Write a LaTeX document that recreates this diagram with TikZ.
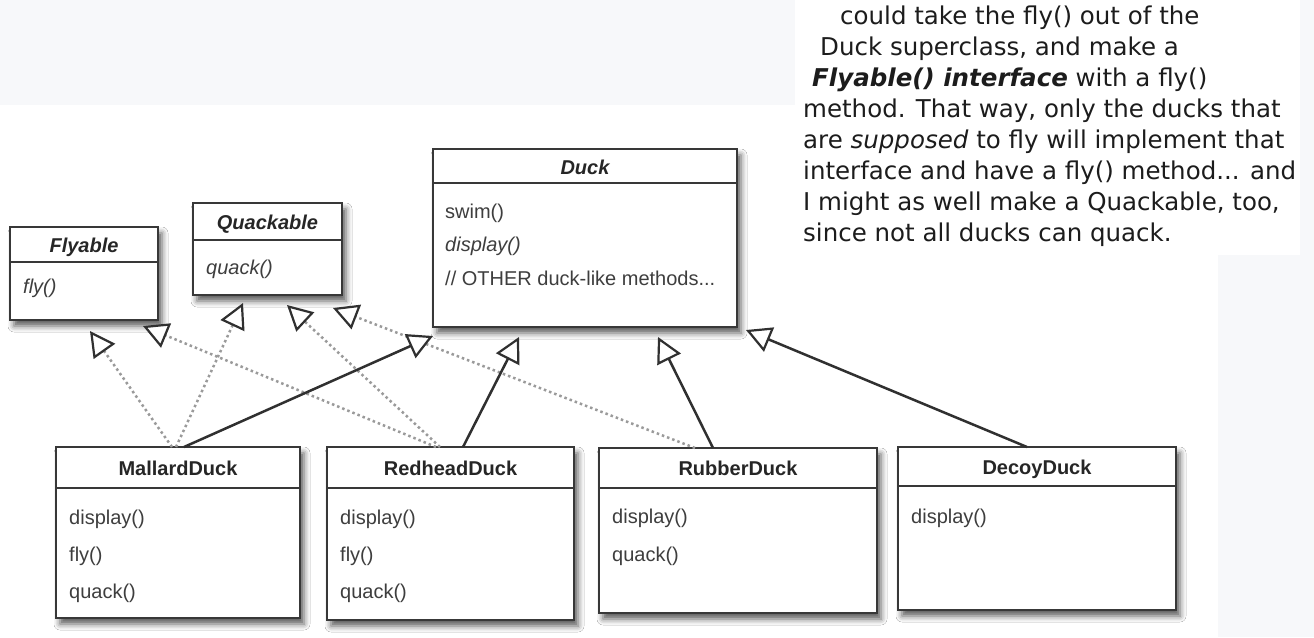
\documentclass[tikz,border=0pt]{standalone}
\usepackage{fontspec}
\setmainfont{Liberation Sans}
\newfontfamily\boxfont{Liberation Sans}
\newfontfamily\notefont{DejaVu Sans}
\usetikzlibrary{arrows.meta,calc,shadows.blur}
\definecolor{bggray}{HTML}{F7F8FA}
\definecolor{boxline}{HTML}{383838}
\definecolor{txt}{HTML}{262626}
\definecolor{meth}{HTML}{3E3E3E}
\definecolor{dotc}{HTML}{9A9A9A}
\definecolor{solidc}{HTML}{303030}
\definecolor{notec}{HTML}{1C1C1C}
\tikzset{
  classbox/.style={draw=boxline, line width=2pt, fill=white, inner sep=0pt, outer sep=0pt,
    blur shadow={shadow xshift=4pt, shadow yshift=-6pt, shadow blur radius=6pt, shadow opacity=65}},
  hdr/.style={font=\boxfont\bfseries\fontsize{20}{24}\selectfont, text=txt, anchor=base, inner sep=0pt},
  hdri/.style={hdr, font=\boxfont\bfseries\itshape\fontsize{20}{24}\selectfont},
  mth/.style={font=\boxfont\fontsize{20}{24}\selectfont, text=meth, anchor=base west, inner sep=0pt},
  mthi/.style={mth, font=\boxfont\itshape\fontsize{20}{24}\selectfont},
  divider/.style={draw=boxline, line width=2pt},
  tip/.style={-{Triangle[fill=white, color=solidc, length=25pt, width=26pt, line width=2.2pt]}},
  realize/.style={tip, draw=dotc, line width=2.5pt, dash pattern=on 2.5pt off 3pt},
  inherit/.style={tip, draw=solidc, line width=2.5pt},
  note/.style={font=\notefont\fontsize{24.5}{31}\selectfont, text=notec, anchor=base west, inner sep=0pt},
}
\newcommand\umlclass[6]{%
  \node[classbox, minimum width={(#4-#2)*1pt}, minimum height={(#5-#3)*1pt}] (#1) at ({(#2+#4)/2},{(#3+#5)/2}) {};
  \draw[divider] (#1.west |- 0,#6) -- (#1.east |- 0,#6);
}
\begin{document}
\begin{tikzpicture}[x=1pt,y=-1pt]
  \useasboundingbox (0,0) rectangle (1314,637);
  \fill[white] (0,0) rectangle (1314,637);
  \fill[bggray] (0,0) rectangle (795,105);
  \fill[bggray] (1300,0) rectangle (1314,255);
  \fill[bggray] (1218,255) rectangle (1314,637);

  % note text
  \node[note] (t1) at (840,24) {could take the fly() out of the};
  \node[note] (t2) at (820,55) {Duck superclass, and make a};
  \node[note] (t3) at (812,86) {\textbf{\textit{Flyable() interface}} with a fly()};
  \node[note] (t4) at (803,117) {method. That way, only the ducks that};
  \node[note] (t5) at (803,148) {are \textit{supposed} to fly will implement that};
  \node[note] (t6) at (803,179) {interface and have a fly() method... and};
  \node[note] (t7) at (803,210) {I might as well make a Quackable, too,};
  \node[note] (t8) at (803,241) {since not all ducks can quack.};

  % classes
  \umlclass{flyable}{10}{227}{158}{320}{262}
  \node[hdri] (flyable-h) at (84,252) {Flyable};
  \node[mthi] (flyable-m1) at (23,293) {fly()};

  \umlclass{quackable}{193}{203}{342}{295}{240}
  \node[hdri] (quackable-h) at (267.5,229) {Quackable};
  \node[mthi] (quackable-m1) at (206,274) {quack()};

  \umlclass{duck}{433}{149}{737}{327}{183}
  \node[hdri] (duck-h) at (585,174) {Duck};
  \node[mth] (duck-m1) at (445,218) {swim()};
  \node[mthi] (duck-m2) at (445,251) {display()};
  \node[mth] (duck-m3) at (445,285) {// OTHER duck-like methods...};

  \umlclass{mallard}{56}{447}{300}{618}{488}
  \node[hdr] (mallard-h) at (178,475) {MallardDuck};
  \node[mth] (mallard-m1) at (69,524) {display()};
  \node[mth] (mallard-m2) at (69,561) {fly()};
  \node[mth] (mallard-m3) at (69,598) {quack()};

  \umlclass{redhead}{327}{447}{574}{620}{488}
  \node[hdr] (redhead-h) at (450.5,475) {RedheadDuck};
  \node[mth] (redhead-m1) at (340,524) {display()};
  \node[mth] (redhead-m2) at (340,561) {fly()};
  \node[mth] (redhead-m3) at (340,598) {quack()};

  \umlclass{rubber}{599}{448}{877}{613}{488}
  \node[hdr] (rubber-h) at (738,475) {RubberDuck};
  \node[mth] (rubber-m1) at (612,523) {display()};
  \node[mth] (rubber-m2) at (612,561) {quack()};

  \umlclass{decoy}{898}{447}{1176}{610}{486}
  \node[hdr] (decoy-h) at (1037,474) {DecoyDuck};
  \node[mth] (decoy-m1) at (911,523) {display()};

  % connectors
  \draw[realize] ($(mallard.north west)+(116,0)$) -- ($(flyable.south west)+(80,11)$);
  \draw[realize] ($(mallard.north west)+(120,0)$) -- ($(quackable.south west)+(50,8)$);
  \draw[realize] ($(redhead.north west)+(109,0)$) -- ($(flyable.south west)+(133,6)$);
  \draw[realize] ($(redhead.north west)+(113,0)$) -- ($(quackable.south west)+(94,10)$);
  \draw[realize] ($(rubber.north west)+(96,0)$) -- ($(quackable.south west)+(140,13)$);

  \draw[inherit] ($(mallard.north west)+(128,0)$) -- ($(duck.south west)+(0,9)$);
  \draw[inherit] ($(redhead.north west)+(136,0)$) -- ($(duck.south west)+(86,10)$);
  \draw[inherit] ($(rubber.north west)+(114,0)$) -- ($(duck.south west)+(225,10)$);
  \draw[inherit] ($(decoy.north west)+(129,0)$) -- ($(duck.south east)+(9,3)$);
\end{tikzpicture}
\end{document}
